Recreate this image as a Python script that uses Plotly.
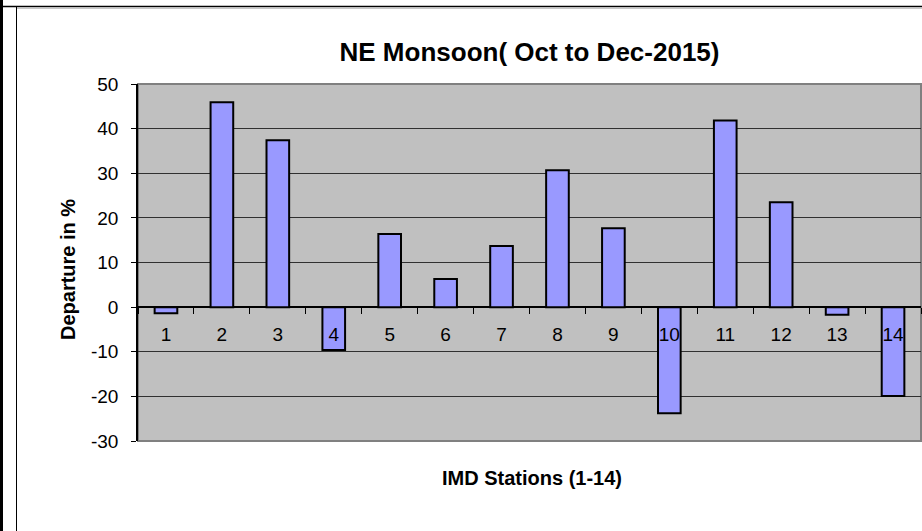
import plotly.graph_objects as go

stations = [str(i) for i in range(1, 15)]
departure = [-1.4, 45.9, 37.4, -9.6, 16.4, 6.3, 13.7, 30.7, 17.7, -23.8, 41.8, 23.5, -1.7, -19.9]
y_ticks = [-30, -20, -10, 0, 10, 20, 30, 40, 50]

W, H = 922, 531
L, R, T, B = 138, 1, 84, 90
PW, PH = W - L - R, H - T - B

def px(x):
    return (x - L) / PW

def py(y):
    return (H - B - y) / PH

FONT = "Liberation Sans, Arial, sans-serif"

fig = go.Figure(go.Bar(
    x=stations, y=departure,
    marker=dict(color="#9999FF", line=dict(color="black", width=2)),
))

fig.update_layout(
    width=W, height=H,
    margin=dict(l=L, r=R, t=T, b=B, autoexpand=False),
    paper_bgcolor="white", plot_bgcolor="#C0C0C0",
    bargap=0.595, showlegend=False,
    font=dict(family=FONT, color="black"),
    title=dict(text="<b>NE Monsoon( Oct to Dec-2015)</b>", font=dict(size=26, family=FONT, color="black"),
               x=0.5, xref="paper", xanchor="center", y=1 - 52 / H, yref="container", yanchor="middle"),
)

fig.update_yaxes(
    range=[-30, 50], tickvals=y_ticks, ticktext=[str(v) for v in y_ticks],
    showgrid=True, gridcolor="#303030", gridwidth=1,
    zeroline=True, zerolinecolor="black", zerolinewidth=1.5,
    showline=True, linecolor="black", linewidth=1.5,
    ticks="outside", ticklen=5, tickcolor="black", tickwidth=1,
    tickfont=dict(size=19, family=FONT, color="black"),
    ticklabelstandoff=9,
)

fig.update_xaxes(
    type="category", anchor="free", position=0.375,
    showgrid=False, zeroline=False, showline=False,
    ticks="outside", ticklen=6, tickcolor="black", tickwidth=1, tickson="boundaries",
    tickfont=dict(size=19, family=FONT, color="black"),
    ticklabelstandoff=14,
)

shapes = [
    dict(type="rect", xref="paper", yref="paper", x0=0, x1=1, y0=0, y1=1,
         line=dict(color="#808080", width=2), layer="below"),
    dict(type="line", xref="paper", yref="paper", x0=px(1.5), x1=px(1.5), y0=py(0), y1=py(H),
         line=dict(color="black", width=3)),
    dict(type="line", xref="paper", yref="paper", x0=px(16.5), x1=px(16.5), y0=py(7), y1=py(H),
         line=dict(color="black", width=1)),
    dict(type="line", xref="paper", yref="paper", x0=px(0), x1=px(W), y0=py(6.5), y1=py(6.5),
         line=dict(color="black", width=1.5)),
    dict(type="line", xref="paper", yref="paper", x0=px(17), x1=px(W), y0=py(8.5), y1=py(8.5),
         line=dict(color="#C8C8C8", width=1)),
]
fig.update_layout(shapes=shapes)

fig.add_annotation(text="<b>IMD Stations (1-14)</b>", xref="paper", yref="paper",
                   x=px(532), y=py(478), showarrow=False, xanchor="center", yanchor="middle",
                   font=dict(size=20, family=FONT, color="black"))
fig.add_annotation(text="<b>Departure in %</b>", xref="paper", yref="paper",
                   x=px(68), y=py(270), showarrow=False, xanchor="center", yanchor="middle",
                   textangle=-90, font=dict(size=20, family=FONT, color="black"))

fig.write_html("out.html", config={"displayModeBar": False},
               post_script="document.body.style.margin='0';document.body.style.overflow='hidden';")
